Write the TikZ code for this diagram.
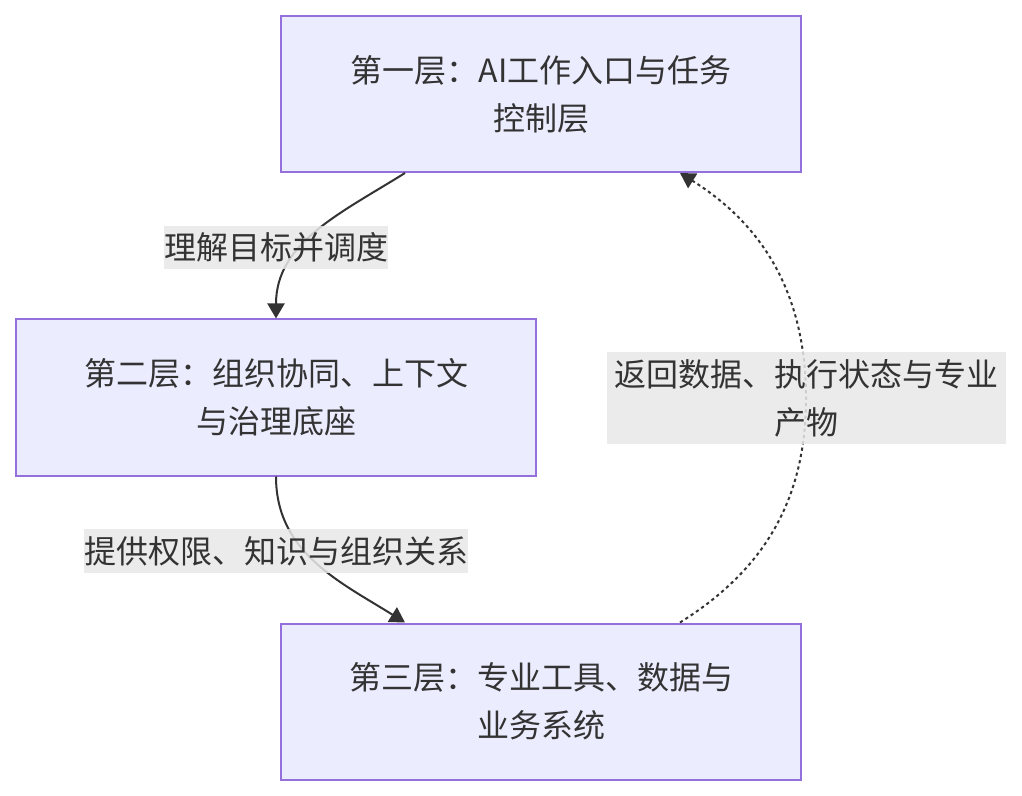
\documentclass[tikz,border=0pt]{standalone}
\usepackage{fontspec}
\setmainfont{Noto Sans CJK SC}
\usetikzlibrary{arrows.meta,calc,positioning}
\definecolor{layerfill}{HTML}{ECECFF}
\definecolor{layerline}{HTML}{9370DB}
\definecolor{labelfill}{HTML}{E8E8E8}
\definecolor{inktext}{HTML}{333333}
\tikzset{layer/.style={
            draw=layerline,
            fill=layerfill,
            line width=1pt,
            minimum width=260pt,
            minimum height=78pt,
            align=center,
            text=inktext,
            font=\fontsize{16pt}{24pt}\selectfont
        },
        edgelabel/.style={
            fill=labelfill,
            fill opacity=0.85,
            text opacity=1,
            text=inktext,
            inner xsep=0pt,
            inner ysep=3.5pt,
            align=center,
            font=\fontsize{16pt}{24pt}\selectfont
        },
        flow/.style={
            draw=inktext,
            line width=1pt,
            -{Triangle[length=7.5pt,width=8.5pt]}
        },
        backflow/.style={
            flow,
            dash pattern=on 1.6pt off 1.6pt
        }
    }

\begin{document}
\begin{tikzpicture}[x=0.5pt,y=-0.5pt]
        \useasboundingbox (0,0) rectangle (1022,796);
        \node[layer] (top) at (541,94) {第一层：AI工作入口与任务\\控制层};
        \node[layer] (middle) at (276,397.5) {第二层：组织协同、上下文\\与治理底座};
        \node[layer] (bottom) at (541,701.5) {第三层：专业工具、数据与\\业务系统};
        \coordinate (retmid) at (806,398);
        % connectors
        \draw[flow] ([xshift=-68pt]top.south) to[out=-148,in=90] (middle.north);
        \draw[flow] (middle.south) to[out=-90,in=148] ([xshift=-68pt]bottom.north);
        \draw[backflow] ([xshift=69.5pt]bottom.north) to[out=32,in=-90] (retmid)
            to[out=90,in=-32] ([xshift=69.5pt]top.south);
        % labels
        \node[edgelabel] (dispatch) at (276,247.5) {理解目标并调度};
        \node[edgelabel] (provide) at (276,551) {提供权限、知识与组织关系};
        \node[edgelabel,inner xsep=3.75pt] (feedback) at (retmid) {返回数据、执行状态与专业\\产物};
    \end{tikzpicture}
\end{document}
